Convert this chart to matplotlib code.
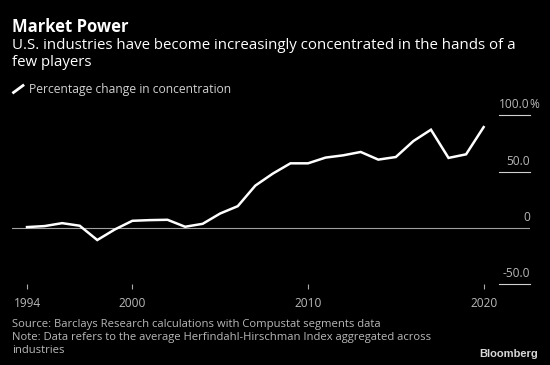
import matplotlib
matplotlib.use("Agg")
import matplotlib.pyplot as plt
import matplotlib.transforms as mtransforms

plt.rcParams["font.family"] = ["Open Sans", "DejaVu Sans"]

years = list(range(1994, 2021))
concentration = [0.6, 1.5, 4.1, 1.8, -10.9, -1.5, 6.2, 6.8, 7.1, 0.9, 3.5,
                 12.7, 19.2, 37.5, 48.2, 57.3, 57.3, 62.4, 64.4, 67.4, 60.6,
                 62.9, 77.1, 87.2, 62.1, 65.3, 89.5]
x_ticks = [1994, 2000, 2010, 2020]
y_grid = [100, 50, -50]
y_labels = ["100.0", "50.0", "0", "-50.0"]
y_label_vals = [100, 50, 0, -50]

W, H = 550, 365
BG = "black"
GREY = "#b8b8b8"

fig = plt.figure(figsize=(W / 100, H / 100), dpi=100, facecolor=BG)


def px(x, y):
    return x / W, 1 - y / H


# axes: left 12px, right 530px, -50 at y=284, 100 at y=115.3
ax = fig.add_axes([12 / W, (H - 284) / H, (530 - 12) / W, (284 - 115.3) / H])
ax.set_facecolor(BG)
ax.set_xlim(1993.145, 2022.64)
ax.set_ylim(-50, 100)
for s in ax.spines.values():
    s.set_visible(False)

ax.axhline(0, color="#a0a0a0", lw=0.8, zorder=1)
trans = mtransforms.blended_transform_factory(ax.transAxes, ax.transData)
for v in y_grid:
    ax.plot([(499 - 12) / (530 - 12), 1.0], [v, v], color="#d0d0d0", lw=0.8,
            transform=trans, clip_on=False)

for lab, v in zip(y_labels, y_label_vals):
    ax.annotate(lab, xy=(1.0, v), xycoords=trans, xytext=(0, 5),
                textcoords="offset points", ha="right", va="baseline",
                color=GREY, fontsize=8.6)
ax.annotate("%", xy=(1.0, 100), xycoords=trans, xytext=(-0.8, 5),
            textcoords="offset points", ha="left", va="baseline",
            color=GREY, fontsize=8.6)

ax.plot(years, concentration, color="white", lw=1.8, solid_joinstyle="miter",
        zorder=3, clip_on=False)

ax.set_yticks([])
ax.set_xticks(x_ticks)
ax.set_xticklabels([str(t) for t in x_ticks])
ax.tick_params(axis="x", length=3.6, width=0.8, color="#aaaaaa",
               labelcolor=GREY, labelsize=8.6, pad=6)

# header
fig.text(*px(12.5, 31.7), "Market Power", color="white", fontsize=12,
         fontweight="bold", va="baseline")
fig.text(*px(12.5, 49.3), "U.S. industries have become increasingly concentrated in the hands of a",
         color="white", fontsize=10.8, va="baseline")
fig.text(*px(12.5, 66), "few players", color="white", fontsize=10.8, va="baseline")
fig.lines.append(plt.Line2D([13.5 / W, 23 / W], [1 - 92.5 / H, 1 - 85.5 / H],
                            color="white", lw=2, transform=fig.transFigure))
fig.text(*px(29, 92.7), "Percentage change in concentration", color="#d0d0d0",
         fontsize=8.7, va="baseline")

# footer
fig.text(*px(12.5, 327), "Source: Barclays Research calculations with Compustat segments data",
         color=GREY, fontsize=8.1, va="baseline")
fig.text(*px(12.5, 340), "Note: Data refers to the average Herfindahl-Hirschman Index aggregated across",
         color=GREY, fontsize=8.1, va="baseline")
fig.text(*px(12.5, 353), "industries", color=GREY, fontsize=8.1, va="baseline")
fig.text(*px(538, 357), "Bloomberg", color="#d8d8d8", fontsize=8,
         fontweight="bold", ha="right", va="baseline", family=["Liberation Sans", "DejaVu Sans"])

fig.savefig("out.png", dpi=100, facecolor=BG)
